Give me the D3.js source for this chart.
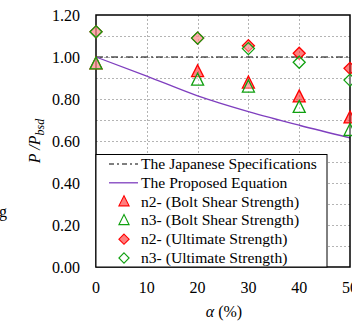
<!DOCTYPE html>
<html>
<head>
<meta charset="utf-8">
<script src="https://cdn.jsdelivr.net/npm/d3@7"></script>
<style>
  html, body { margin: 0; padding: 0; background: #fff; overflow: hidden; }
  svg { display: block; font-family: "Liberation Serif", "Times New Roman", serif; }
</style>
</head>
<body>
<svg id="chart" width="352" height="321"></svg>
<script>
// data
const alphas = [0, 20, 30, 40, 50];
const n2Bolt = [0.967, 0.93, 0.876, 0.81, 0.71];
const n3Bolt = [0.967, 0.89, 0.857, 0.76, 0.65];
const n2Ult = [1.12, 1.09, 1.054, 1.018, 0.946];
const n3Ult = [1.12, 1.09, 1.04, 0.975, 0.89];

const japanX = [0, 50];
const japanY = [1.0, 1.0];

const eqX = [0, 10, 20, 30, 40, 50];
const eqY = [1.0, 0.909, 0.815, 0.74, 0.675, 0.615];

const xTicks = [0, 10, 20, 30, 40, 50];
const yTicks = [0, 0.2, 0.4, 0.6, 0.8, 1.0, 1.2];
const yGrid = [0.1, 0.2, 0.3, 0.4, 0.5, 0.6, 0.7, 0.8, 0.9, 1.0, 1.1];

const legendLabels = [
  'The Japanese Specifications',
  'The Proposed Equation',
  'n2- (Bolt Shear Strength)',
  'n3- (Bolt Shear Strength)',
  'n2- (Ultimate Strength)',
  'n3- (Ultimate Strength)'
];

const svg = d3.select('#chart');

const plotL = 96, plotR = 350, plotT = 15, plotB = 267;
const x = d3.scaleLinear().domain([0, 50]).range([plotL, plotR]);
const y = d3.scaleLinear().domain([0, 1.2]).range([plotB, plotT]);

const RED = '#ff0000';
const RED_FILL = 'rgba(255,40,40,0.6)';
const GREEN = '#10a010';
const GREEN_FILL = 'rgba(255,255,255,0.35)';
const PURPLE = '#7f3fbf';

const triPath = 'M0,-7L6,5L-6,5Z';
const diaPath = 'M0,-6L6,0L0,6L-6,0Z';

// grid
const grid = svg.append('g')
  .attr('stroke', '#b4b4b4')
  .attr('stroke-width', 1)
  .attr('stroke-dasharray', '2,2');

grid.selectAll('line.h')
  .data(yGrid)
  .join('line')
  .attr('class', 'h')
  .attr('x1', plotL).attr('x2', plotR)
  .attr('y1', d => Math.round(y(d)) + 0.5)
  .attr('y2', d => Math.round(y(d)) + 0.5);

grid.selectAll('line.v')
  .data(xTicks.slice(1, -1))
  .join('line')
  .attr('class', 'v')
  .attr('y1', plotT).attr('y2', plotB)
  .attr('x1', d => Math.round(x(d)) + 0.5)
  .attr('x2', d => Math.round(x(d)) + 0.5);

// Japanese spec line
svg.append('line')
  .attr('x1', x(japanX[0])).attr('x2', x(japanX[1]))
  .attr('y1', y(japanY[0])).attr('y2', y(japanY[1]))
  .attr('stroke', '#000')
  .attr('stroke-width', 1.2)
  .attr('stroke-dasharray', '7,3,2,3');

// proposed equation
svg.append('path')
  .datum(eqX.map((v, i) => [v, eqY[i]]))
  .attr('fill', 'none')
  .attr('stroke', PURPLE)
  .attr('stroke-width', 1.3)
  .attr('d', d3.line()
    .x(d => x(d[0]))
    .y(d => y(d[1]))
    .curve(d3.curveMonotoneX));

// frame
svg.append('rect')
  .attr('x', plotL).attr('y', plotT)
  .attr('width', plotR - plotL).attr('height', plotB - plotT)
  .attr('fill', 'none')
  .attr('stroke', '#000')
  .attr('stroke-width', 1.5);

// markers
function drawMarkers(values, shape, stroke, fill) {
  svg.append('g')
    .selectAll('path')
    .data(values.map((v, i) => [alphas[i], v]))
    .join('path')
    .attr('d', shape)
    .attr('transform', d => `translate(${x(d[0])},${y(d[1])})`)
    .attr('fill', fill)
    .attr('stroke', stroke)
    .attr('stroke-width', 1.3);
}
drawMarkers(n2Bolt, triPath, RED, RED_FILL);
drawMarkers(n3Bolt, triPath, GREEN, GREEN_FILL);
drawMarkers(n2Ult, diaPath, RED, RED_FILL);
drawMarkers(n3Ult, diaPath, GREEN, GREEN_FILL);

// tick labels
svg.append('g')
  .selectAll('text')
  .data(yTicks)
  .join('text')
  .attr('x', 80)
  .attr('y', d => y(d) + 5.5)
  .attr('text-anchor', 'end')
  .attr('font-size', 16)
  .text(d => d.toFixed(2));

// last label (50) runs off the right edge, as in the source figure
svg.append('g')
  .selectAll('text')
  .data(xTicks)
  .join('text')
  .attr('x', d => x(d))
  .attr('y', 293)
  .attr('text-anchor', 'middle')
  .attr('font-size', 16)
  .text(d => d);

// axis titles
const xt = svg.append('text')
  .attr('x', 224)
  .attr('y', 317)
  .attr('text-anchor', 'middle')
  .attr('font-size', 16);
xt.append('tspan').attr('font-style', 'italic').text('α');
xt.append('tspan').text(' (%)');

const yt = svg.append('text')
  .attr('transform', 'translate(40,141) rotate(-90)')
  .attr('text-anchor', 'middle')
  .attr('font-size', 16)
  .attr('font-style', 'italic');
yt.append('tspan').text('P /P');
yt.append('tspan').attr('font-size', 12).attr('dy', 4).text('bsd');

// cut-off text from neighbouring figure
svg.append('text')
  .attr('x', 7)
  .attr('y', 217)
  .attr('text-anchor', 'end')
  .attr('font-size', 16)
  .text('g');

// legend
const lg = svg.append('g');
lg.append('rect')
  .attr('x', plotL).attr('y', 154.5)
  .attr('width', 327 - plotL).attr('height', plotB - 154.5)
  .attr('fill', '#fff')
  .attr('stroke', '#000')
  .attr('stroke-width', 1);

const rowY = i => 164 + i * 18.8;

lg.append('line')
  .attr('x1', 109).attr('x2', 138)
  .attr('y1', rowY(0)).attr('y2', rowY(0))
  .attr('stroke', '#000').attr('stroke-width', 1.2)
  .attr('stroke-dasharray', '5,3,2,3');
lg.append('line')
  .attr('x1', 109).attr('x2', 138)
  .attr('y1', rowY(1)).attr('y2', rowY(1))
  .attr('stroke', PURPLE).attr('stroke-width', 1.3);

const legendMarks = [
  [triPath, RED, RED_FILL],
  [triPath, GREEN, '#fff'],
  [diaPath, RED, RED_FILL],
  [diaPath, GREEN, '#fff']
];
legendMarks.forEach((m, i) => {
  lg.append('path')
    .attr('d', m[0])
    .attr('transform', `translate(124,${rowY(i + 2)}) scale(0.85)`)
    .attr('stroke', m[1])
    .attr('fill', m[2])
    .attr('stroke-width', 1.3);
});

lg.selectAll('text')
  .data(legendLabels)
  .join('text')
  .attr('x', 141)
  .attr('y', (d, i) => rowY(i) + 5)
  .attr('font-size', 15.6)
  .text(d => d);
</script>
</body>
</html>
